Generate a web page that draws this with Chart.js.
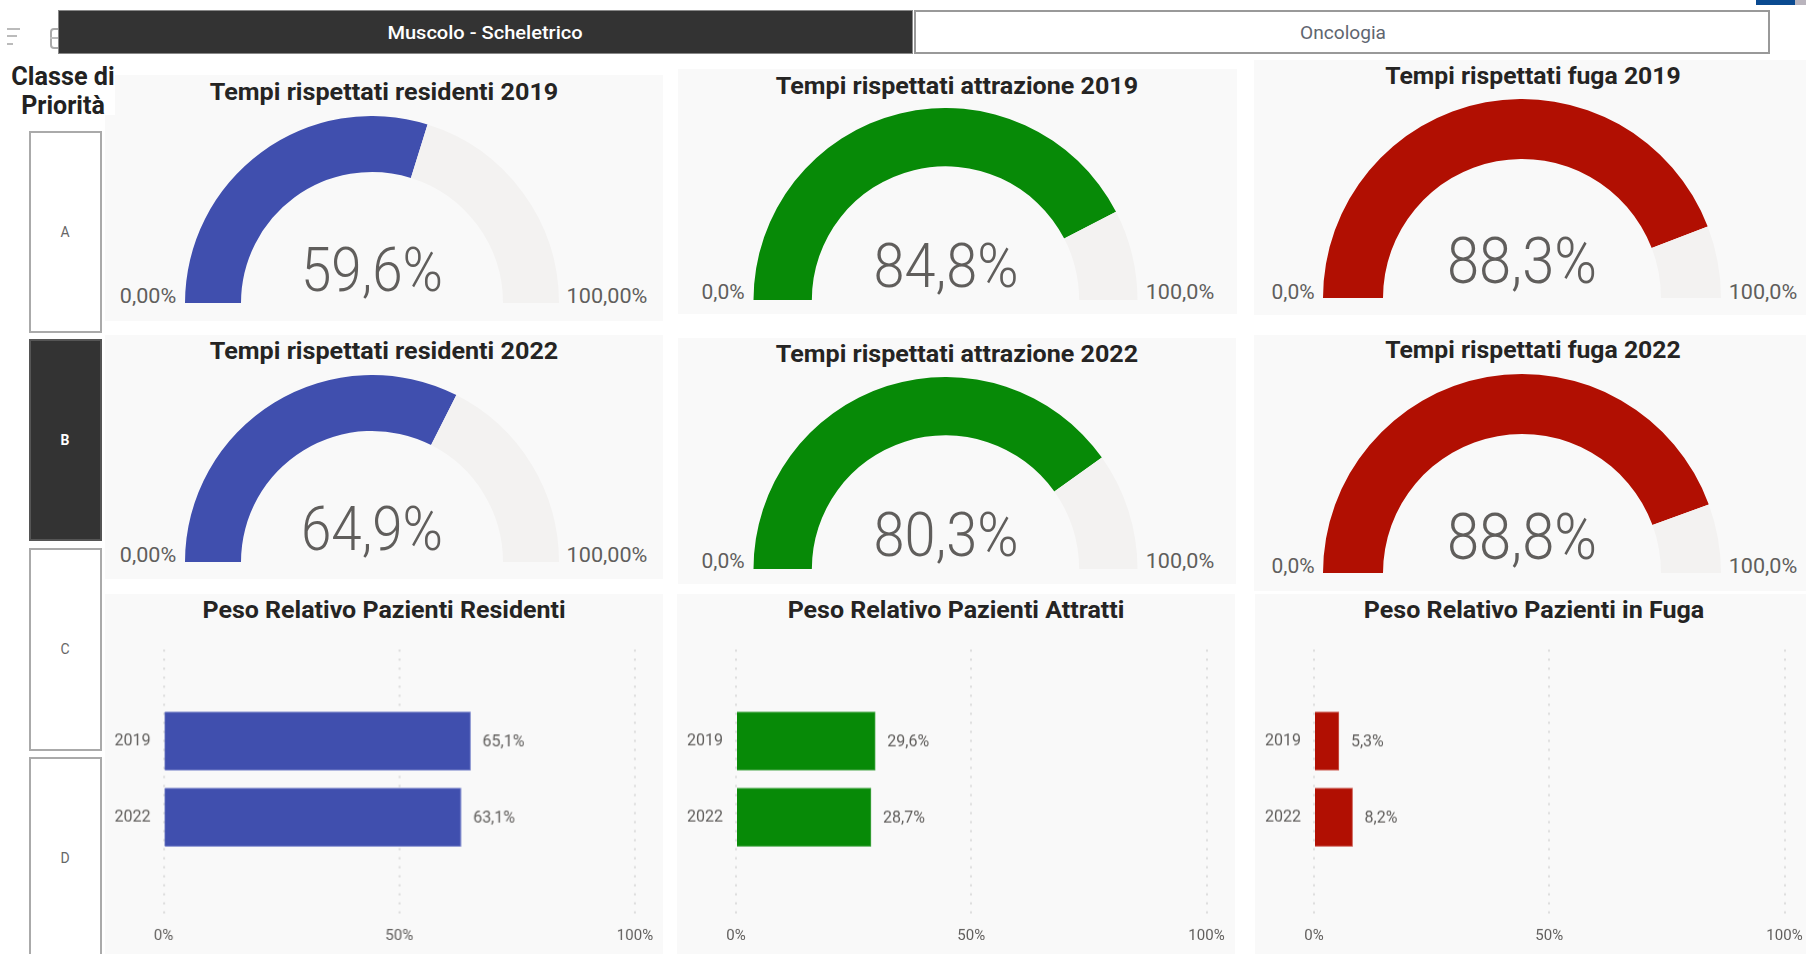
<!DOCTYPE html>
<html><head><meta charset="utf-8">
<script src="https://cdn.jsdelivr.net/npm/chart.js@4"></script>
<style>
html,body{margin:0;padding:0;width:1806px;height:954px;overflow:hidden;background:#fff;font-family:Roboto,sans-serif}
.a{position:absolute;box-sizing:border-box}
.t{position:absolute;white-space:nowrap;line-height:1;transform-origin:center}
canvas{position:absolute}
</style></head><body>
<script>
// ---------- data ----------
const tabLabels = ['Muscolo - Scheletrico', 'Oncologia'];
const classLabels = ['A', 'B', 'C', 'D'];
const years = ['2019', '2022'];
const tempiResidenti = [59.6, 64.9];
const tempiAttrazione = [84.8, 80.3];
const tempiFuga = [88.3, 88.8];
const pesoResidenti = [65.1, 63.1];
const pesoAttratti = [29.6, 28.7];
const pesoFuga = [5.3, 8.2];
const axisTicks = [0, 50, 100];
const blue = '#404fae', green = '#078a07', red = '#b10f02', track = '#f3f2f1';

const FS = 'Roboto, sans-serif';
function box(x, y, w, h, css) {
  const d = document.createElement('div'); d.className = 'a';
  d.style.cssText += `left:${x}px;top:${y}px;width:${w}px;height:${h}px;` + (css || '');
  document.body.appendChild(d); return d;
}
function txt(s, cx, cy, size, weight, color, targetW) {
  const e = document.createElement('span'); e.className = 't'; e.textContent = s;
  e.style.cssText += `left:${cx}px;top:${cy}px;font:${weight} ${size}px ${FS};color:${color};`;
  document.body.appendChild(e);
  const k = targetW ? targetW / e.offsetWidth : 1;
  e.style.transform = `translate(-50%,-50%) scaleX(${k})`;
  return e;
}
const fmt = v => v.toFixed(1).replace('.', ',') + '%';

// ---------- panels ----------
[[105,75,558,246],[678,69,559,245],[1254,60,552,255],
 [105,335,558,244],[678,338,558,246],[1254,335,552,256],
 [105,594,558,360],[677,594,558,360],[1255,594,551,360]]
  .forEach(p => box(p[0], p[1], p[2], p[3], 'background:#f9f9f9'));

// header bits
box(0, 60, 115, 55, 'background:#fff');
[[7,28,13],[7,35,10],[7,43,6]].forEach(l => box(l[0], l[1], l[2], 2, 'background:#bbb'));
box(50, 28, 12, 21, 'border:2px solid #aaa;border-radius:4px');
box(50, 37, 10, 2, 'background:#bbb');
box(58, 9.5, 855, 44, 'background:#333;border:1px solid #888');
box(914, 9.5, 856, 44, 'background:#fff;border:2px solid #999');
txt(tabLabels[0], 485, 32, 18, 500, '#fff', 195);
txt(tabLabels[1], 1343, 32, 18, 400, '#5f6670', 86);
box(1756, 0, 39, 4.5, 'background:#0a4a90');
box(1795, 0, 11, 4.5, 'background:#b9b4bd');

txt('Classe di', 63, 76, 25, 700, '#222', 103);
txt('Priorità', 63, 105, 25, 700, '#222', 84);
[[131,202],[339,202],[548,203],[757,210]].forEach((b, i) => {
  const on = classLabels[i] === 'B';
  box(29, b[0], 73, b[1], `background:${on ? '#333' : '#fff'};border:2px solid ${on ? '#555' : '#aaa'}`);
  txt(classLabels[i], 65, b[0] + 101, 14, on ? 700 : 400, on ? '#fff' : '#666');
});

// ---------- gauges ----------
function gauge(o) {
  const c = document.createElement('canvas');
  c.width = o.r * 2; c.height = o.r;
  c.style.left = (o.cx - o.r) + 'px'; c.style.top = (o.bottom - o.r) + 'px';
  document.body.appendChild(c);
  new Chart(c, {
    type: 'doughnut',
    data: { labels: ['Valore', 'Resto'], datasets: [{ data: [o.value, 100 - o.value], backgroundColor: [o.color, track], borderWidth: 0, hoverOffset: 0 }] },
    options: { responsive: false, animation: false, rotation: -90, circumference: 180, cutout: (100 * o.inner / o.r) + '%',
      layout: { padding: 0 }, plugins: { legend: { display: false }, tooltip: { enabled: false } } }
  });
  txt(o.title, o.tx, o.ty, 23, 700, '#252423', o.tw);
  txt(fmt(o.value), o.cx, o.bottom - o.vy, o.vs, 300, '#605e5c', o.vw);
  const minL = o.dec ? '0,00%' : '0,0%', maxL = o.dec ? '100,00%' : '100,0%';
  const mw = o.dec ? 56 : 43, xw = o.dec ? 81 : 69;
  txt(minL, o.cx - o.r - 9 - mw / 2, o.bottom - o.ly, 20, 400, '#605e5c', mw);
  txt(maxL, o.cx + o.r + 7 + xw / 2, o.bottom - o.ly, 20, 400, '#605e5c', xw);
}
gauge({ title: 'Tempi rispettati residenti 2019', tx: 383.5, ty: 92, tw: 349, value: tempiResidenti[0], color: blue, cx: 372, bottom: 303, r: 187, inner: 131, vy: 34, vs: 62, vw: 142, ly: 7, dec: true });
gauge({ title: 'Tempi rispettati residenti 2022', tx: 383.5, ty: 351, tw: 349, value: tempiResidenti[1], color: blue, cx: 372, bottom: 562, r: 187, inner: 131, vy: 34, vs: 62, vw: 142, ly: 7, dec: true });
gauge({ title: 'Tempi rispettati attrazione 2019', tx: 957, ty: 85.5, tw: 362, value: tempiAttrazione[0], color: green, cx: 945.5, bottom: 300, r: 192.5, inner: 134, vy: 35, vs: 62, vw: 145, ly: 8 });
gauge({ title: 'Tempi rispettati attrazione 2022', tx: 957, ty: 353.5, tw: 362, value: tempiAttrazione[1], color: green, cx: 945.5, bottom: 569, r: 192.5, inner: 134, vy: 35, vs: 62, vw: 145, ly: 8 });
gauge({ title: 'Tempi rispettati fuga 2019', tx: 1533, ty: 75.5, tw: 296, value: tempiFuga[0], color: red, cx: 1522, bottom: 298, r: 199, inner: 139, vy: 37, vs: 64, vw: 150, ly: 6 });
gauge({ title: 'Tempi rispettati fuga 2022', tx: 1533, ty: 350, tw: 296, value: tempiFuga[1], color: red, cx: 1522, bottom: 572.5, r: 199, inner: 139, vy: 36, vs: 64, vw: 150, ly: 7 });

// ---------- bars ----------
const valueLabels = {
  id: 'valueLabels',
  afterDatasetsDraw(chart) {
    const ctx = chart.ctx, ds = chart.data.datasets[0];
    ctx.save(); ctx.font = `400 16px ${FS}`; ctx.fillStyle = '#605e5c';
    ctx.textBaseline = 'middle'; ctx.textAlign = 'left';
    chart.getDatasetMeta(0).data.forEach((el, i) => ctx.fillText(fmt(ds.data[i].x), el.x + 12, el.y + 1));
    ctx.restore();
  }
};
function bars(o) {
  const left = o.left, top = 650, right = o.zero + 510, bottom = 954;
  const c = document.createElement('canvas');
  c.width = right - left; c.height = bottom - top;
  c.style.left = left + 'px'; c.style.top = top + 'px';
  document.body.appendChild(c);
  const chart = new Chart(c, {
    type: 'bar',
    data: { datasets: [{ data: o.values.map((v, i) => ({ x: v, y: i })), backgroundColor: o.color, borderColor: o.edge, borderWidth: 1, barThickness: 58 }] },
    plugins: [valueLabels],
    options: {
      indexAxis: 'y', responsive: false, maintainAspectRatio: false, animation: false,
      layout: { padding: { top: 0, left: 0, bottom: 0, right: right - (o.zero + 470.5) } },
      plugins: { legend: { display: false }, tooltip: { enabled: false } },
      scales: {
        x: { type: 'linear', min: axisTicks[0], max: axisTicks[2],
          afterBuildTicks: s => { s.ticks = axisTicks.map(v => ({ value: v })); },
          afterFit: s => { s.height = 36; },
          grid: { color: '#dcdcdc', lineWidth: 2, drawTicks: false },
          border: { display: false, dash: [2, 7] },
          ticks: { padding: 9, maxRotation: 0, font: { size: 15, family: FS }, color: '#605e5c', callback: v => v + '%' } },
        y: { type: 'linear', offset: false, reverse: true, min: -1.197, max: 2.329,
          afterBuildTicks: s => { s.ticks = years.map((_, i) => ({ value: i })); },
          afterFit: s => { s.width = o.zero - left; },
          grid: { display: false, drawTicks: false, offset: false }, border: { display: false },
          ticks: { padding: 13, font: { size: 16, family: FS }, color: '#605e5c', callback: v => years[v] } }
      }
    }
  });
  // keep the plot top at the intended line whatever inset the layout adds
  const inset = chart.chartArea.top;
  if (inset > 0) {
    c.style.top = (top - inset) + 'px';
    chart.resize(right - left, bottom - top + inset);
  }
}
bars({ left: 105, zero: 163.5, values: pesoResidenti, color: blue, edge: '#6f7bc6' });
bars({ left: 677, zero: 736, values: pesoAttratti, color: green, edge: '#4aa84a' });
bars({ left: 1255, zero: 1314, values: pesoFuga, color: red, edge: '#cc5a50' });
txt('Peso Relativo Pazienti Residenti', 383.5, 610, 23, 700, '#252423', 363);
txt('Peso Relativo Pazienti Attratti', 956, 610, 23, 700, '#252423', 337);
txt('Peso Relativo Pazienti in Fuga', 1534, 610, 23, 700, '#252423', 340);
</script>
</body></html>
